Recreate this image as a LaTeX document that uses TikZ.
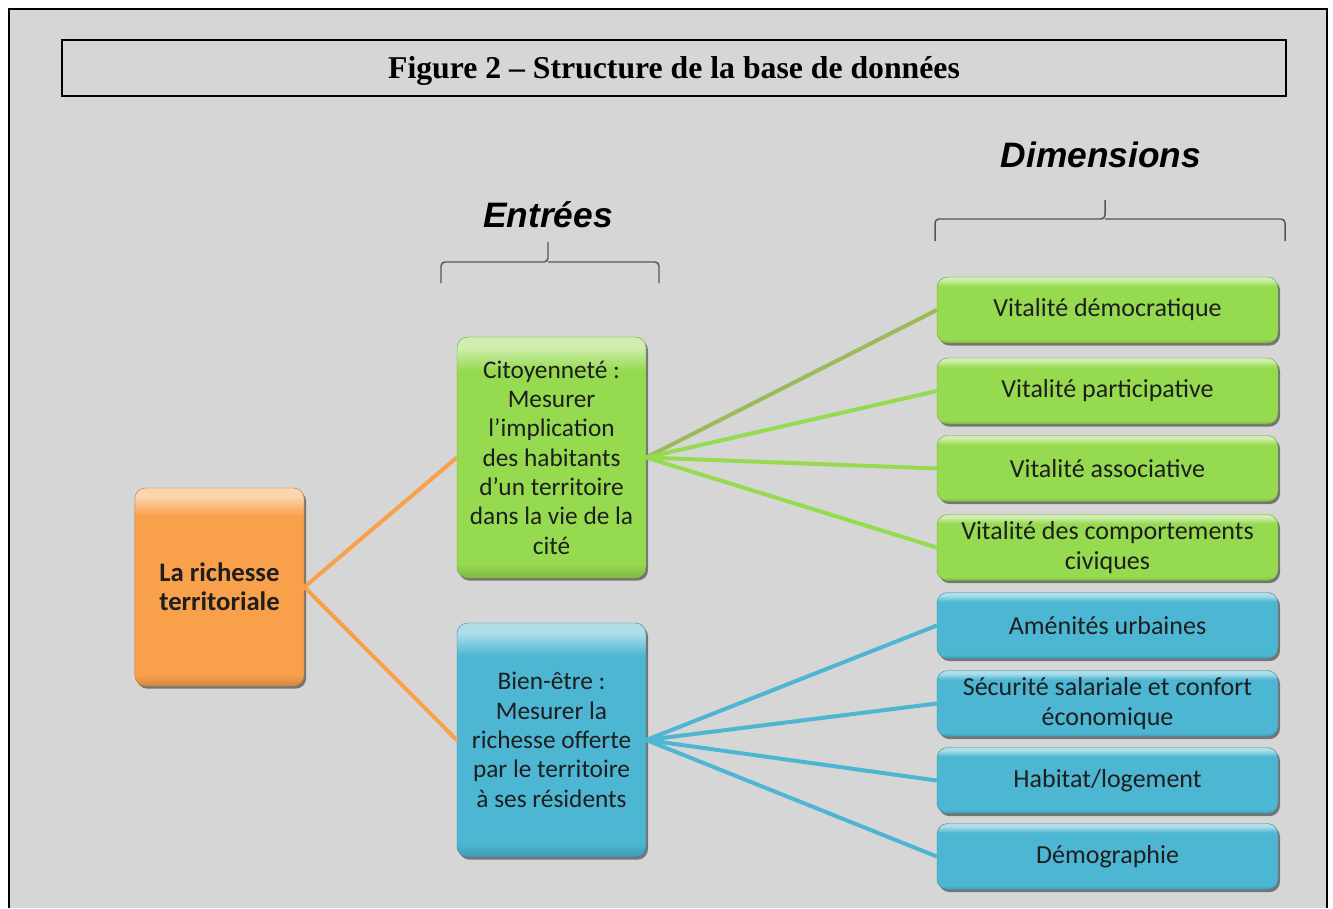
\documentclass[tikz,border=0pt]{standalone}
\usepackage{fontspec}
\setmainfont{Carlito}
\newfontfamily\titlefont[Ligatures=TeX]{Liberation Serif}
\newfontfamily\headfont{Liberation Sans}
\usetikzlibrary{shadows}

\definecolor{bggray}{HTML}{D6D6D6}
\definecolor{orng}{HTML}{F9A04B}
\definecolor{grn}{HTML}{96DA50}
\definecolor{blu}{HTML}{4DB6D2}
\definecolor{olv}{HTML}{9BBB59}
\definecolor{ink}{HTML}{1E1E1E}
\definecolor{brgray}{HTML}{555555}
\colorlet{boxc}{grn}

\pgfdeclareverticalshading[boxc]{gloss}{100bp}{color(0bp)=(boxc!85!black); color(25bp)=(boxc!85!black); color(28bp)=(boxc); color(68bp)=(boxc); color(73bp)=(boxc!45!white); color(75bp)=(boxc!45!white); color(100bp)=(boxc!45!white)}

\tikzset{
  box/.style={/utils/exec={\colorlet{boxc}{#1}}, shading=gloss, rounded corners=8pt,
    draw=#1!75!black, line width=0.3pt, text=ink, align=center, inner sep=0pt,
    drop shadow={shadow xshift=1.5pt, shadow yshift=-2pt, opacity=0.45, fill=black}},
  dimbox/.style={box=#1, minimum width=255.75pt, minimum height=49.5pt,
    font=\fontsize{19.5}{22}\selectfont},
  entbox/.style={box=#1, minimum width=141.75pt,
    font=\fontsize{19}{22}\selectfont},
  link/.style={line width=3pt, color=#1},
  brace/.style={draw=brgray, line width=1.1pt, rounded corners=3pt},
  head/.style={font=\headfont\bfseries\itshape\fontsize{26.5}{30}\selectfont, text=black}
}

\begin{document}
\begin{tikzpicture}[x=0.75pt, y=-0.75pt]

\useasboundingbox (0,0) rectangle (1333,908);
\fill[white] (0,0) rectangle (1333,908);
\fill[bggray] (9,9) rectangle (1327,908);
\draw[line width=1.6pt] (9,908) -- (9,9) -- (1327,9) -- (1327,908);
\draw[line width=1.1pt] (62,40) rectangle (1286,96);
\node[font=\titlefont\bfseries\fontsize{23.8}{26}\selectfont] (title) at (674,71) {Figure 2 – Structure de la base de données};

\node[head] (entrees) at (548,215) {Entrées};
\node[head] (dims) at (1101,155) {Dimensions};
\draw[brace] (441,283) |- (548,262) -- (548,242);
\draw[brace] (548,262) -| (659,283);
\draw[brace] (935,241) |- (1105,219) -- (1105,200);
\draw[brace] (1105,219) -| (1285,241);

\node[box=orng, minimum width=127pt, minimum height=148.5pt, font=\bfseries\fontsize{20}{22}\selectfont] (root) at (219.5,587) {La richesse\\territoriale};

\node[entbox=grn, minimum height=180.75pt] (cit) at (551.5,457.5) {Citoyenneté :\\Mesurer\\l’implication\\des habitants\\d’un territoire\\dans la vie de la\\cité};
\node[entbox=blu, minimum height=175.5pt] (bien) at (551.5,740) {Bien-être :\\Mesurer la\\richesse offerte\\par le territoire\\à ses résidents};

\foreach \n/\y/\t in {d1/310/{Vitalité démocratique}, d2/391/{Vitalité participative}, d3/468.5/{Vitalité associative}, d4/547.5/{Vitalité des comportements\\civiques}}
  {\node[dimbox=grn] (\n) at (1107.5,\y) {\t};}
\foreach \n/\y/\t in {d5/625.5/{Aménités urbaines}, d6/703.5/{Sécurité salariale et confort\\économique}, d7/780.5/{Habitat/logement}, d8/856.5/{Démographie}}
  {\node[dimbox=blu] (\n) at (1107.5,\y) {\t};}

\draw[link=orng] (cit.west) -- (root.east) -- (bien.west);
\draw[link=olv] (cit.east) -- (d1.west);
\foreach \n in {d2,d3,d4} {\draw[link=grn] (cit.east) -- (\n.west);}
\foreach \n in {d5,d6,d7,d8} {\draw[link=blu] (bien.east) -- (\n.west);}

\end{tikzpicture}
\end{document}
